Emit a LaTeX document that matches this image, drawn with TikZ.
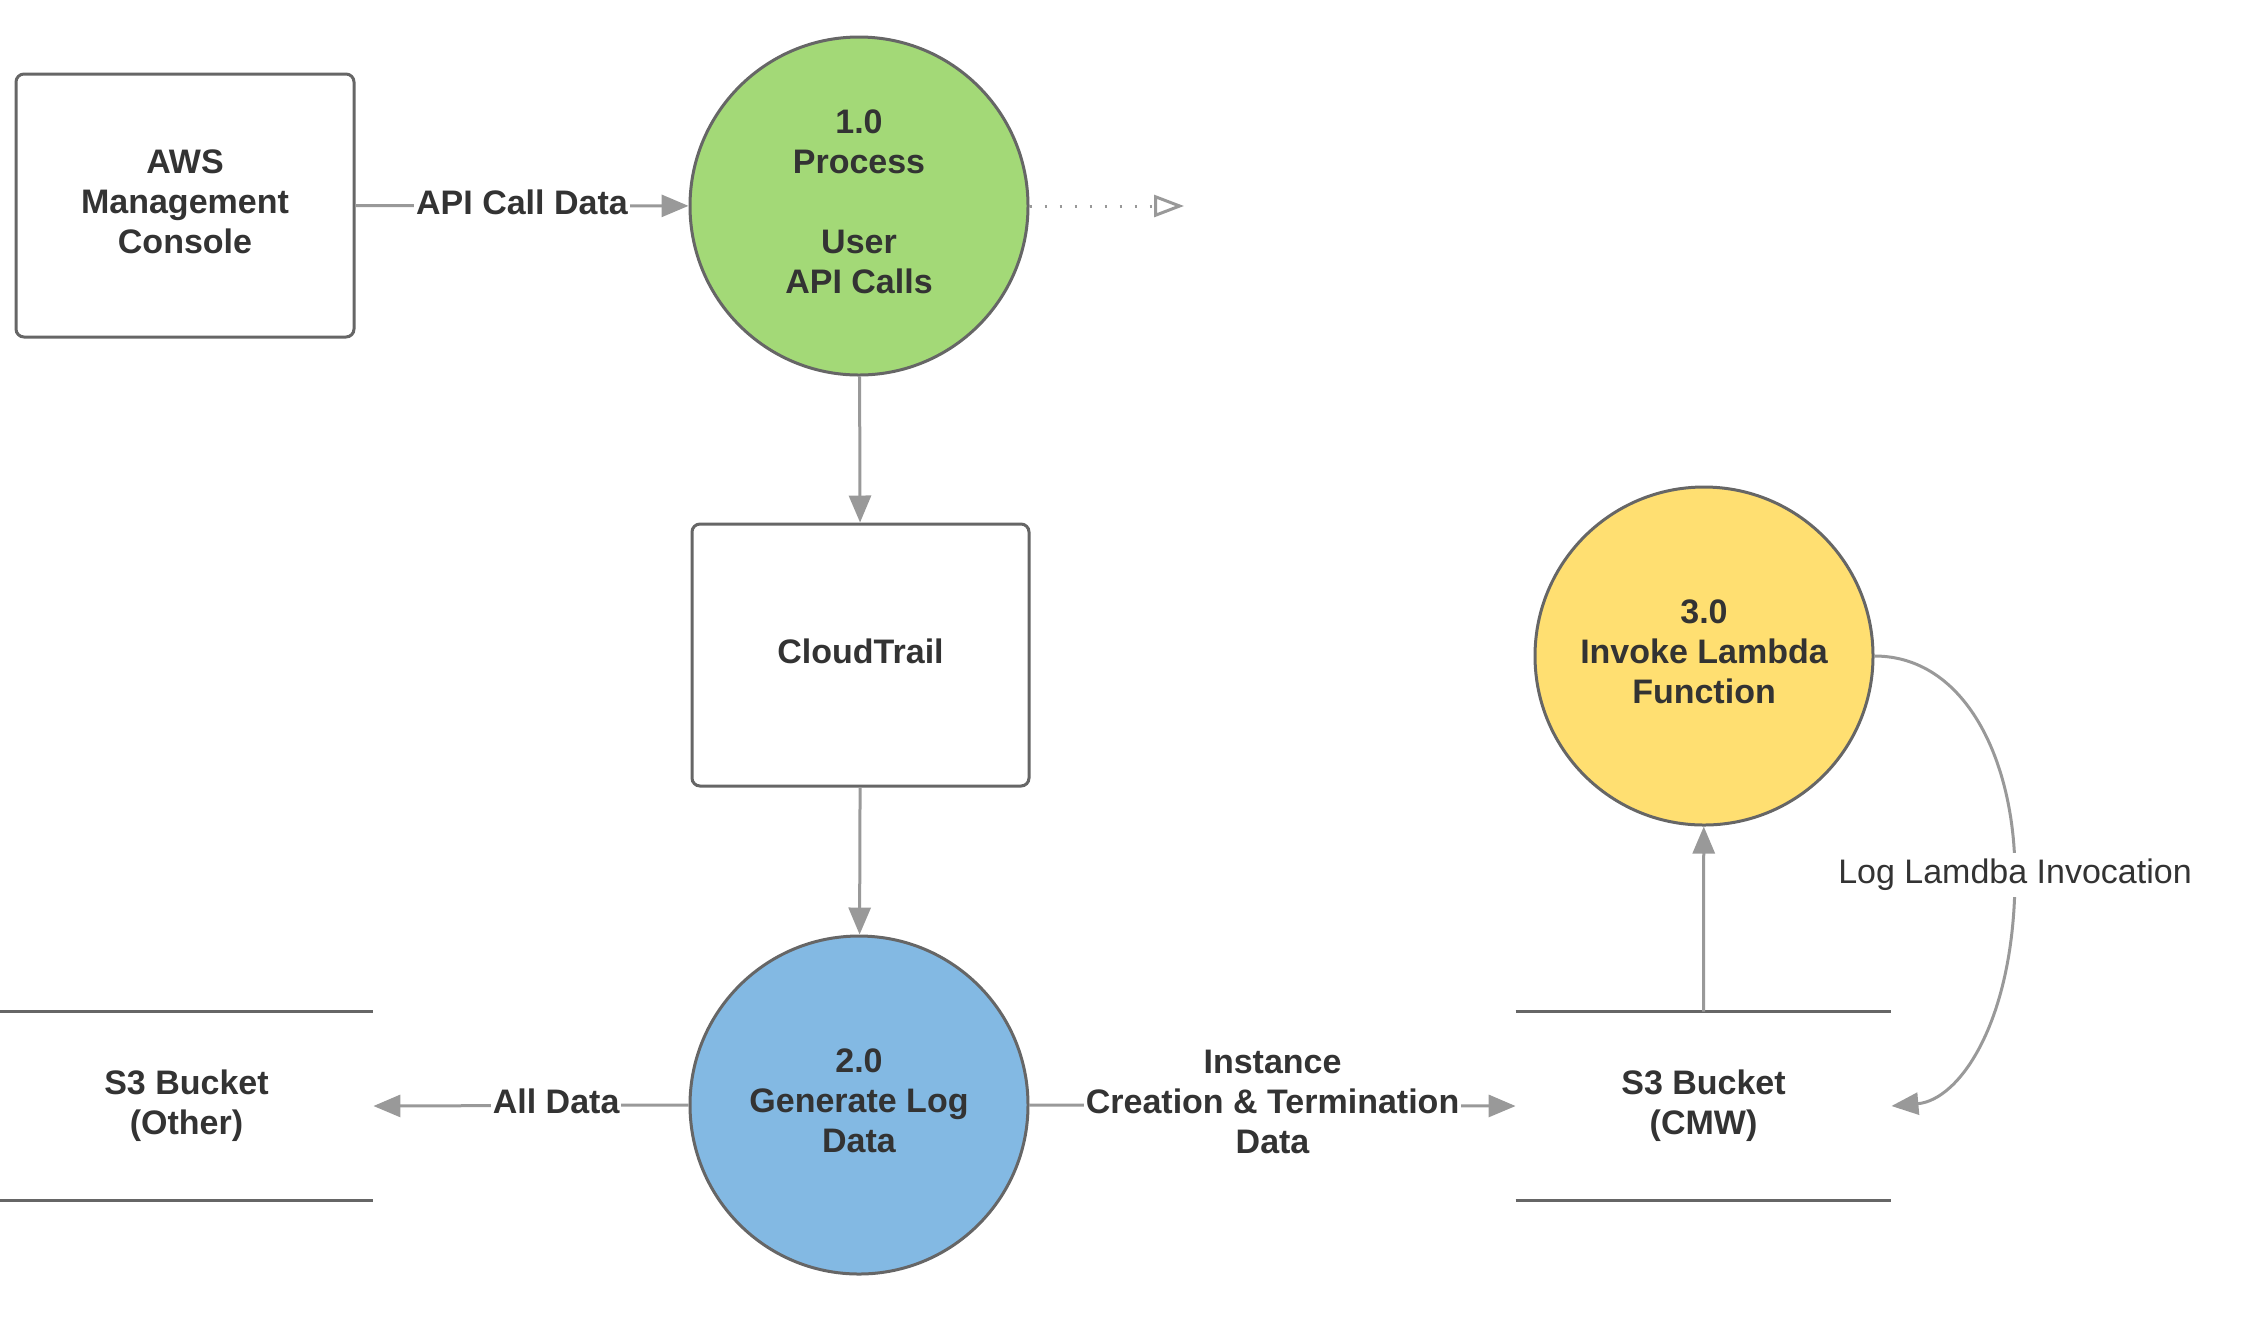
\documentclass[tikz,border=0pt]{standalone}
\usepackage{fontspec}
\setmainfont{Liberation Sans}
\usetikzlibrary{arrows.meta}
\definecolor{txt}{HTML}{333333}
\definecolor{edgegray}{HTML}{666666}
\definecolor{arrowgray}{HTML}{999999}
\definecolor{pgreen}{HTML}{A3D977}
\definecolor{pblue}{HTML}{83B9E3}
\definecolor{pyellow}{HTML}{FFDF71}
\begin{document}
\begin{tikzpicture}[x=0.5pt,y=-0.5pt,
  every node/.style={text=txt, font=\fontsize{17}{20}\selectfont\bfseries, align=center, text depth=4pt},
  proc/.style={circle, draw=edgegray, line width=1.5pt, minimum size=169pt, inner sep=0pt},
  ent/.style={rectangle, rounded corners=4pt, draw=edgegray, line width=1.5pt, fill=white, minimum width=169pt, minimum height=131.5pt},
  store/.style={rectangle, minimum height=94pt, inner sep=0pt},
  storeline/.style={draw=edgegray, line width=1.4pt},
  arr/.style={draw=arrowgray, line width=1.5pt, -{Triangle[length=13.5pt,width=11pt]}},
  dotarr/.style={draw=arrowgray, line width=1.5pt, dash pattern=on 1.2pt off 6.3pt, -{Triangle[open,length=15pt,width=11pt,line width=1.5pt]}},
  flowlbl/.style={fill=white, inner xsep=1pt, inner ysep=1pt},
  plainlbl/.style={fill=white, inner xsep=2pt, inner ysep=3pt, font=\fontsize{17}{20}\selectfont\mdseries},
]
\useasboundingbox (0,0) rectangle (2241,1341);

% nodes
\node[ent] (aws) at (185,205.5) {AWS\\Management\\Console};
\node[proc, fill=pgreen] (p1) at (859,206) {1.0\\Process\\[20pt]User\\API Calls};
\node[ent, minimum width=168.5pt, minimum height=131pt] (ct) at (860.5,655) {CloudTrail};
\node[proc, fill=pblue] (p2) at (859,1105) {2.0\\Generate Log\\Data};
\node[proc, fill=pyellow] (p3) at (1704,656) {3.0\\Invoke Lambda\\Function};
\node[store, minimum width=186.5pt] (s3o) at (186.5,1106) {S3 Bucket\\(Other)};
\node[store, minimum width=187.5pt] (s3c) at (1703.5,1106) {S3 Bucket\\(CMW)};
\coordinate (dotend) at (1184,206);

% data store lines
\draw[storeline] (s3o.north west) -- (s3o.north east);
\draw[storeline] (s3o.south west) -- (s3o.south east);
\draw[storeline] (s3c.north west) -- (s3c.north east);
\draw[storeline] (s3c.south west) -- (s3c.south east);

% connectors
\draw[arr] (aws) -- node[flowlbl] (l1) {API Call Data} (p1);
\draw[dotarr] (p1.east) -- (dotend);
\draw[arr] (p1) -- (ct);
\draw[arr] (ct) -- (p2);
\draw[arr] (p2.west) -- node[flowlbl, pos=0.42] (l2) {All Data} (s3o.east);
\draw[arr] (p2.east) -- node[flowlbl] (l3) {Instance\\Creation \& Termination\\Data} (s3c.west);
\draw[arr] (s3c.north) -- (p3);
\draw[arr] (p3.east) .. controls (1965,656) and (2015,760) .. (2015,875)
  node[plainlbl] (l4) {Log Lamdba Invocation}
  .. controls (2015,1020) and (1960,1100) .. (s3c.east);
\end{tikzpicture}
\end{document}
